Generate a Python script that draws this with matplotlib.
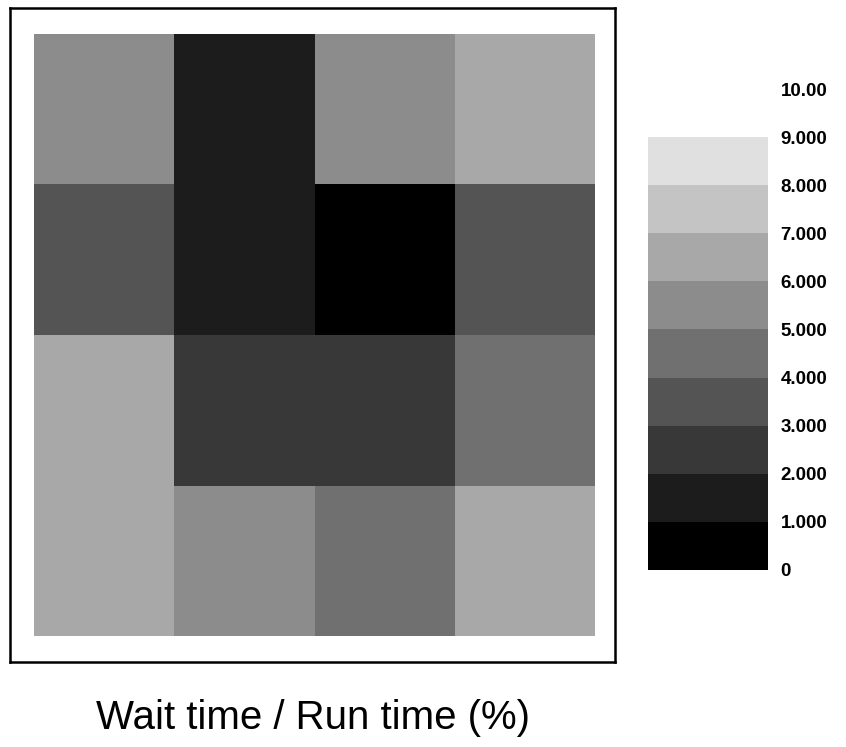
import numpy as np
import matplotlib
matplotlib.use("Agg")
import matplotlib.pyplot as plt
from matplotlib.colors import ListedColormap, BoundaryNorm

plt.rcParams['font.family'] = ['Liberation Sans', 'DejaVu Sans']

# cell values (top row first), read from the grey levels
values = np.array([
    [5.5, 1.5, 5.5, 6.5],
    [3.5, 1.5, 0.5, 3.5],
    [6.5, 2.5, 2.5, 4.5],
    [6.5, 5.5, 4.5, 6.5],
])
levels = [0, 1, 2, 3, 4, 5, 6, 7, 8, 9]
tick_labels = ["0", "1.000", "2.000", "3.000", "4.000", "5.000",
               "6.000", "7.000", "8.000", "9.000"]
top_label = "10.00"
xlabel = "Wait time / Run time (%)"

grays = [str(28 * k / 255) for k in range(9)]
cmap = ListedColormap(grays)
norm = BoundaryNorm(levels, cmap.N)

fig = plt.figure(figsize=(8.46, 7.47), dpi=100)
W, H = 846, 747

ax = fig.add_axes([10 / W, (H - 662) / H, 605 / W, 654 / H])
ax.pcolormesh(np.arange(5), np.arange(5), values, cmap=cmap, norm=norm)
ax.set_xlim(-0.17, 4.14)
ax.set_ylim(4.17, -0.17)
ax.set_xticks([])
ax.set_yticks([])
for s in ax.spines.values():
    s.set_linewidth(1.8)
    s.set_color("black")

fig.text(313 / W, 1 - 718 / H, xlabel, ha="center", va="center", fontsize=29)

cax = fig.add_axes([648 / W, (H - 570) / H, 120 / W, 433 / H])
cb = fig.colorbar(plt.cm.ScalarMappable(norm=norm, cmap=cmap), cax=cax,
                  ticks=levels)
cb.outline.set_visible(False)
cax.set_yticklabels(tick_labels)
cax.tick_params(length=0, pad=9, labelsize=13.5)
for t in cax.get_yticklabels():
    t.set_fontweight("bold")

# the 10.00 label sits one step above the top of the bar
fig.text(781 / W, 1 - 91 / H, top_label, ha="left",
         va="center", fontsize=13.5, fontweight="bold")

fig.savefig("out.png", dpi=100)
